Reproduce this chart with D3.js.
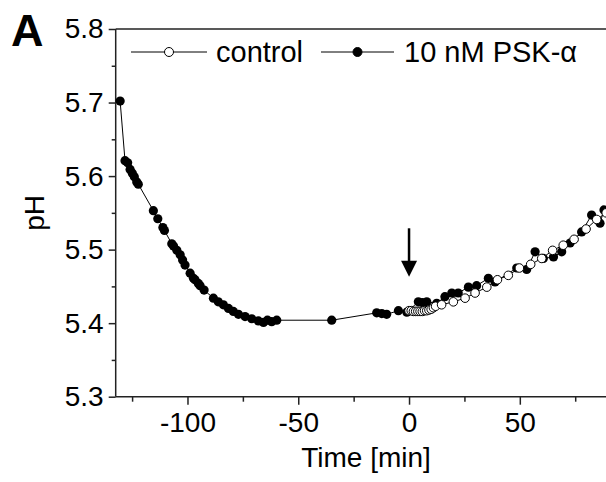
<!DOCTYPE html>
<html><head><meta charset="utf-8">
<script src="https://cdn.jsdelivr.net/npm/d3@7"></script>
<style>
html,body{margin:0;padding:0;background:#fff;}
svg text{font-family:"Liberation Sans",Arial,sans-serif;fill:#000;}
</style></head>
<body><svg id="c" width="606" height="482"></svg>
<script>
// PSK-alpha series (filled)
const pskTime = [-130.4,-128.2,-127.0,-125.9,-124.9,-124.0,-122.9,-122.2,-115.4,-113.4,-111.1,-110.4,-107.1,-106.3,-104.8,-103.3,-102.2,-101.1,-98.8,-97.3,-96.6,-95.1,-94.3,-92.5,-88.3,-86.1,-83.8,-81.5,-79.3,-77.0,-74.0,-71.0,-68.0,-65.7,-63.9,-62.0,-59.7,-34.9,-14.6,-12.3,-10.1,-4.8,-1.0,4.2,6.0,8.0,12.5,16.2,19.3,22.2,26.8,30.5,35.8,38.8,48.6,53.1,56.9,60.6,65.2,68.9,72.7,77.9,82.4,86.2,88.0];
const pskPH   = [5.702,5.621,5.618,5.609,5.604,5.599,5.592,5.589,5.553,5.542,5.530,5.526,5.508,5.505,5.499,5.493,5.486,5.479,5.468,5.461,5.459,5.454,5.451,5.445,5.434,5.429,5.425,5.420,5.416,5.412,5.409,5.406,5.403,5.401,5.404,5.402,5.404,5.404,5.414,5.413,5.412,5.417,5.415,5.429,5.428,5.429,5.427,5.436,5.441,5.441,5.449,5.451,5.461,5.456,5.475,5.473,5.497,5.488,5.490,5.497,5.509,5.524,5.547,5.536,5.554];
// control series (open)
const ctrlTime = [0,1,2,3,4,5,6,7,8,9,10,11,12,14.7,20.0,25.3,29.8,35.1,39.9,44.8,49.8,54.9,59.9,64.8,69.6,74.5,79.9,84.7,89.0];
const ctrlPH   = [5.417,5.417,5.416,5.416,5.416,5.416,5.416,5.417,5.417,5.418,5.419,5.421,5.423,5.425,5.429,5.434,5.441,5.449,5.459,5.465,5.475,5.480,5.488,5.499,5.506,5.514,5.528,5.541,5.550];
const xTicks = [-100,-50,0,50];
const xTickLabels = ["-100","-50","0","50"];
const xMinor = [-125,-75,-25,25,75];
const yTicks = [5.3,5.4,5.5,5.6,5.7,5.8];
const yTickLabels = ["5.3","5.4","5.5","5.6","5.7","5.8"];
const yMinor = [5.35,5.45,5.55,5.65,5.75];
const legendLabels = ["control","10 nM PSK-\u03b1"];
const arrowTime = 0, arrowFrom = 5.529, arrowTo = 5.463;

const svg = d3.select("#c");
const L=115.7, R=606, T=29, B=396.7;
const x = d3.scaleLinear().domain([-132.4, 88.9]).range([L, R]);
const y = d3.scaleLinear().domain([5.3, 5.8]).range([B, T]);
const FS = 28;
const axc = "#222";

// axes
const gx = svg.append("g").attr("transform",`translate(0,${B})`)
  .call(d3.axisBottom(x).tickValues(xTicks).tickSize(8).tickPadding(7).tickFormat((d,i)=>xTickLabels[i]));
gx.append("g").call(d3.axisBottom(x).tickValues(xMinor).tickSize(5).tickFormat(""));
const gy = svg.append("g").attr("transform",`translate(${L},0)`)
  .call(d3.axisLeft(y).tickValues(yTicks).tickSize(7).tickPadding(5).tickFormat((d,i)=>yTickLabels[i]));
gy.append("g").call(d3.axisLeft(y).tickValues(yMinor).tickSize(4).tickFormat(""));
svg.selectAll(".domain").remove();
svg.selectAll(".tick line").attr("stroke",axc).attr("stroke-width",1.5);
svg.selectAll(".tick text").attr("font-size",FS).attr("font-family","Liberation Sans, Arial, sans-serif").attr("fill","#000");
svg.append("line").attr("x1",L).attr("x2",R).attr("y1",B).attr("y2",B).attr("stroke",axc).attr("stroke-width",1.5);
svg.append("line").attr("x1",L).attr("x2",L).attr("y1",T).attr("y2",B).attr("stroke",axc).attr("stroke-width",1.5);
svg.append("line").attr("x1",L).attr("x2",R).attr("y1",T).attr("y2",T).attr("stroke",axc).attr("stroke-width",1.5);

// series
const psk = pskTime.map((t,i)=>({t, v:pskPH[i]}));
const ctrl = ctrlTime.map((t,i)=>({t, v:ctrlPH[i]}));
const line = d3.line().x(d=>x(d.t)).y(d=>y(d.v));
const plot = svg.append("g");
plot.append("path").datum(psk).attr("d",line).attr("fill","none").attr("stroke","#000").attr("stroke-width",1);
plot.append("g").selectAll("circle").data(psk).join("circle")
  .attr("cx",d=>x(d.t)).attr("cy",d=>y(d.v)).attr("r",4.6).attr("fill","#000");
plot.append("path").datum(ctrl).attr("d",line).attr("fill","none").attr("stroke","#000").attr("stroke-width",1);
plot.append("g").selectAll("circle").data(ctrl).join("circle")
  .attr("cx",d=>x(d.t)).attr("cy",d=>y(d.v)).attr("r",4.3).attr("fill","#fff").attr("stroke","#000").attr("stroke-width",1);

// arrow
const ax = x(arrowTime), ay1 = y(arrowFrom), ay2 = y(arrowTo);
svg.append("line").attr("x1",ax).attr("x2",ax).attr("y1",ay1).attr("y2",ay2-14).attr("stroke","#000").attr("stroke-width",2.5);
svg.append("path").attr("d",`M${ax-8},${ay2-16}L${ax+8},${ay2-16}L${ax},${ay2}Z`).attr("fill","#000");

// legend
const lg = [{x1:131,x2:207,cx:169,tx:216,fill:"#fff"},{x1:321,x2:394,cx:357.5,tx:404,fill:"#000"}];
const ly = 52;
lg.forEach((g,i)=>{
  svg.append("line").attr("x1",g.x1).attr("x2",g.x2).attr("y1",ly).attr("y2",ly).attr("stroke","#000").attr("stroke-width",1);
  svg.append("circle").attr("cx",g.cx).attr("cy",ly).attr("r",4.5).attr("fill",g.fill).attr("stroke","#000").attr("stroke-width",1);
  svg.append("text").attr("x",g.tx).attr("y",ly+10).attr("font-size",FS+1).text(legendLabels[i]);
});

// labels
svg.append("text").attr("x",(297+435)/2).attr("y",467).attr("text-anchor","middle").attr("font-size",FS).text("Time [min]");
svg.append("text").attr("transform",`translate(44,${(T+B)/2}) rotate(-90)`).attr("text-anchor","middle").attr("font-size",FS).text("pH");
svg.append("text").attr("x",11).attr("y",46).attr("font-size",45).attr("font-weight","bold").text("A");
</script></body></html>
